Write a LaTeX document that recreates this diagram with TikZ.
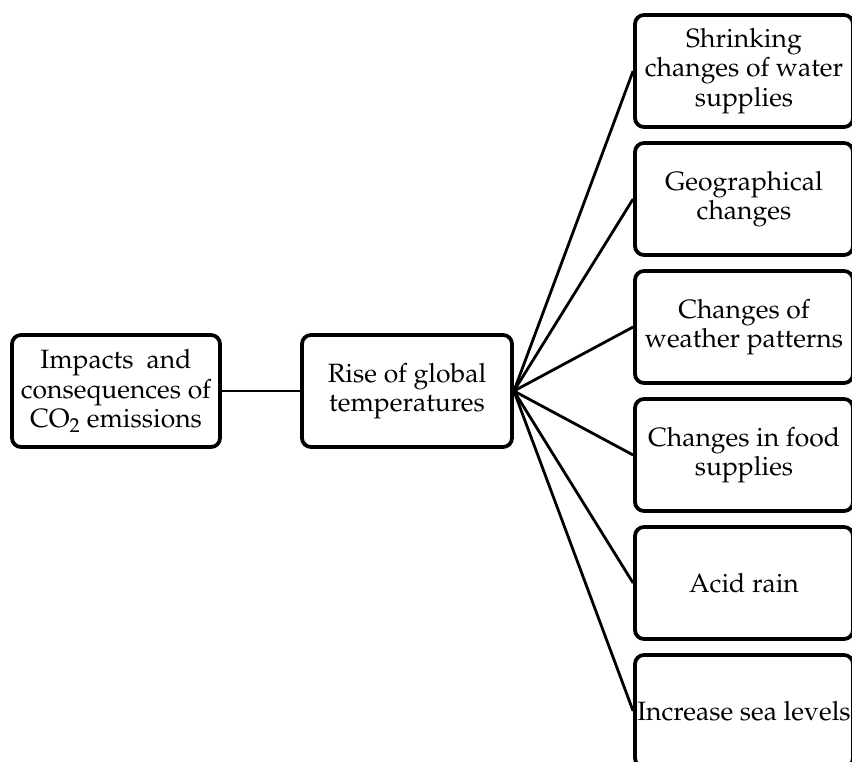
\documentclass[tikz,border=0pt]{standalone}
\usepackage[T1]{fontenc}
\usepackage{mathpazo}
\usetikzlibrary{shadows}
\tikzset{
  box/.style={draw=black, line width=3.8pt, rounded corners=9pt, fill=white,
    align=center, inner sep=0pt, font=\fontsize{26.5}{29.5}\selectfont,
    drop shadow={opacity=0.25, shadow xshift=1pt, shadow yshift=-1.5pt}},
  link/.style={draw=black, line width=2.8pt}
}
\begin{document}
\begin{tikzpicture}[x=1pt,y=-1pt]
\useasboundingbox (0,0) rectangle (852,762);
\node[box, minimum width=208pt, minimum height=112pt] (root) at (116,391)
  {Impacts~ and\\consequences of\\CO$_2$ emissions};
\node[box, minimum width=210pt, minimum height=112pt] (rise) at (407,391)
  {Rise of global\\temperatures};
\node[box, minimum width=218pt, minimum height=112pt] (r1) at (744,71)
  {Shrinking\\changes of water\\supplies};
\node[box, minimum width=218pt, minimum height=112pt] (r2) at (744,199)
  {Geographical\\changes};
\node[box, minimum width=218pt, minimum height=112pt] (r3) at (744,327)
  {Changes of\\weather patterns};
\node[box, minimum width=218pt, minimum height=112pt] (r4) at (744,455)
  {Changes in food\\supplies};
\node[box, minimum width=218pt, minimum height=112pt] (r5) at (744,583)
  {Acid rain};
\node[box, minimum width=218pt, minimum height=112pt] (r6) at (744,711)
  {Increase sea levels};
\draw[link] (root.east) -- (rise.west);
\foreach \n in {r1,r2,r3,r4,r5,r6}{
  \draw[link] (rise.east) -- (\n.west);
}
\end{tikzpicture}
\end{document}
